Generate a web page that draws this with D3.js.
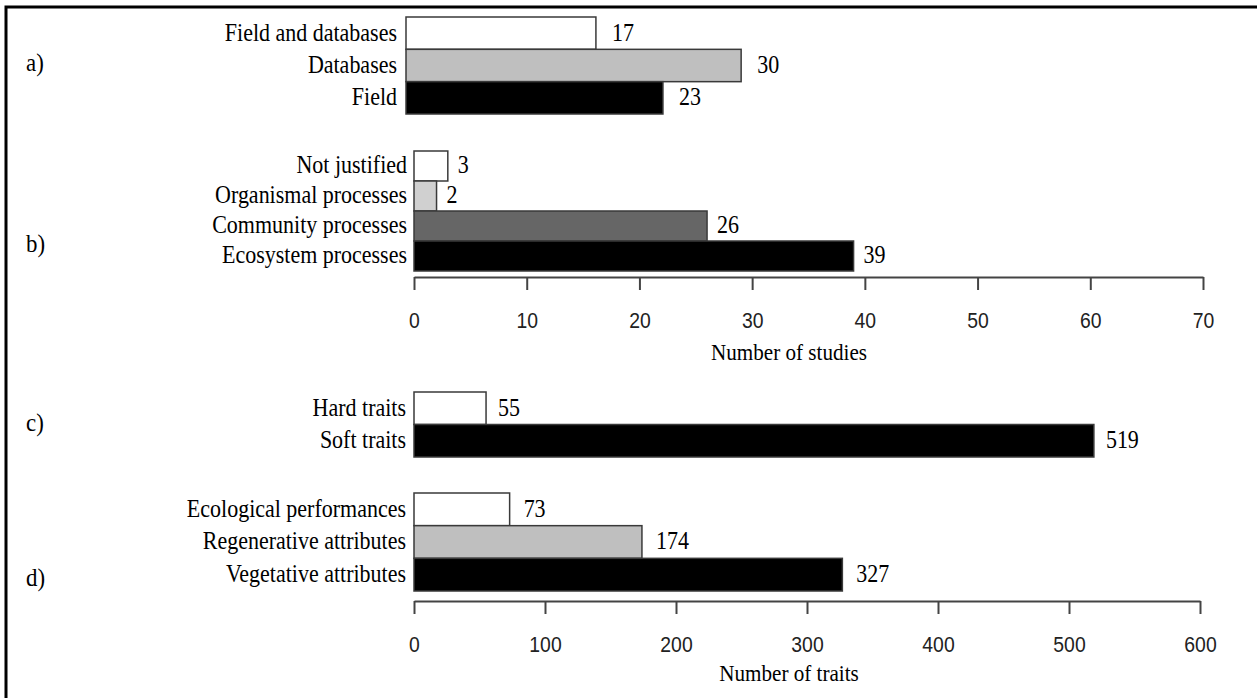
<!DOCTYPE html>
<html>
<head>
<meta charset="utf-8">
<script src="https://cdn.jsdelivr.net/npm/d3@7"></script>
<style>
  html, body { margin: 0; padding: 0; background: #fff; overflow: hidden; }
  svg { display: block; }
  .serif { font-family: "Liberation Serif", "Times New Roman", serif; fill: #000; }
  .tick text { font-family: "Liberation Sans", Arial, sans-serif; fill: #222; }
</style>
</head>
<body>
<svg id="chart" width="1257" height="698"></svg>
<script>
// ---- data ----
const sourceCategories = ["Field and databases", "Databases", "Field"];
const sourceValues = [17, 30, 23];

const justificationCategories = ["Not justified", "Organismal processes", "Community processes", "Ecosystem processes"];
const justificationValues = [3, 2, 26, 39];

const traitTypeCategories = ["Hard traits", "Soft traits"];
const traitTypeValues = [55, 519];

const traitGroupCategories = ["Ecological performances", "Regenerative attributes", "Vegetative attributes"];
const traitGroupValues = [73, 174, 327];

const studiesTicks = [0, 10, 20, 30, 40, 50, 60, 70];
const traitsTicks = [0, 100, 200, 300, 400, 500, 600];

const panelLetters = ["a)", "b)", "c)", "d)"];
const studiesTitle = "Number of studies";
const traitsTitle = "Number of traits";

// ---- layout ----
const svg = d3.select("#chart");
const SX = 0.88;              // horizontal squeeze applied to text
const serifSize = 25;
const tickSize = 22;

// frame
svg.append("rect")
  .attr("x", 6).attr("y", 7)
  .attr("width", 1400).attr("height", 900)
  .attr("fill", "none").attr("stroke", "#000").attr("stroke-width", 3);

function drawText(x, y, str, anchor, size) {
  return svg.append("text")
    .attr("class", "serif")
    .attr("transform", `translate(${x},${y}) scale(${SX},1)`)
    .attr("text-anchor", anchor)
    .attr("dominant-baseline", "central")
    .attr("font-size", size || serifSize)
    .text(str);
}

function drawPanel(cfg) {
  const { cats, vals, fills, x, y0, y1, labelGap, valueGap } = cfg;
  const y = d3.scaleBand().domain(cats).range([y0, y1]).padding(0);
  const g = svg.append("g");

  // category labels (drawn first so bars sit on top)
  cats.forEach(c => drawText(x(0) - labelGap, y(c) + y.bandwidth() / 2 - 1, c, "end"));

  g.selectAll("rect")
    .data(cats)
    .join("rect")
    .attr("x", x(0))
    .attr("y", c => y(c))
    .attr("width", (c, i) => x(vals[i]) - x(0))
    .attr("height", y.bandwidth())
    .attr("fill", (c, i) => fills[i])
    .attr("stroke", "#3a3a3a")
    .attr("stroke-width", 1.5);

  cats.forEach((c, i) => drawText(x(vals[i]) + valueGap, y(c) + y.bandwidth() / 2 - 1, String(vals[i]), "start"));
}

function drawAxis(x, ticks, yAxis, title, titleY, titleX) {
  const axis = d3.axisBottom(x)
    .tickValues(ticks)
    .tickFormat(d3.format("d"))
    .tickSizeInner(13)
    .tickSizeOuter(0)
    .tickPadding(22);
  const g = svg.append("g").attr("transform", `translate(0,${yAxis})`).call(axis);
  g.select(".domain").attr("stroke", "#444").attr("stroke-width", 2);
  g.selectAll(".tick line").attr("stroke", "#444").attr("stroke-width", 2);
  g.selectAll(".tick text")
    .attr("font-size", tickSize)
    .attr("transform", `scale(${SX},1)`);
  drawText(titleX, titleY, title, "middle", 24);
}

// scales
const xSource = d3.scaleLinear().domain([0, 70]).range([406, 1188]);
const xStudies = d3.scaleLinear().domain([0, 70]).range([414, 1203]);
const xTraits = d3.scaleLinear().domain([0, 600]).range([414, 1200]);

// a) data source
drawPanel({
  cats: sourceCategories, vals: sourceValues,
  fills: ["#ffffff", "#bfbfbf", "#000000"],
  x: xSource, y0: 17, y1: 114, labelGap: 9, valueGap: 16
});

// b) justification
drawPanel({
  cats: justificationCategories, vals: justificationValues,
  fills: ["#ffffff", "#d0d0d0", "#666666", "#000000"],
  x: xStudies, y0: 151, y1: 271, labelGap: 7, valueGap: 10
});
drawAxis(xStudies, studiesTicks, 277, studiesTitle, 352, 789);

// c) hard vs soft
drawPanel({
  cats: traitTypeCategories, vals: traitTypeValues,
  fills: ["#ffffff", "#000000"],
  x: xTraits, y0: 392, y1: 457, labelGap: 8, valueGap: 12
});

// d) trait groups
drawPanel({
  cats: traitGroupCategories, vals: traitGroupValues,
  fills: ["#ffffff", "#bfbfbf", "#000000"],
  x: xTraits, y0: 493, y1: 591, labelGap: 8, valueGap: 14
});
drawAxis(xTraits, traitsTicks, 601, traitsTitle, 673, 789);

// panel letters
[62, 243, 422, 577].forEach((py, i) => drawText(26, py, panelLetters[i], "start", 26));
</script>
</body>
</html>
